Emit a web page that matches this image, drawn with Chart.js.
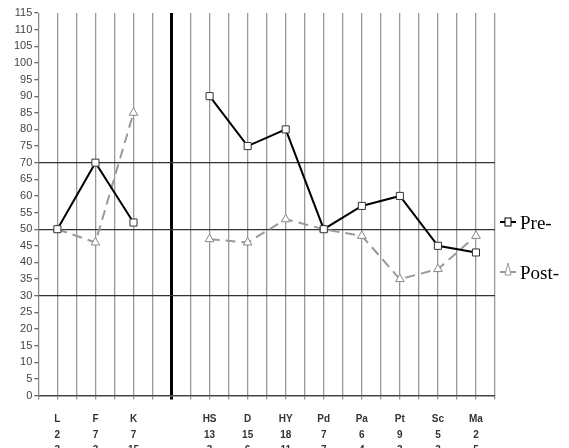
<!DOCTYPE html>
<html>
<head>
<script src="https://cdn.jsdelivr.net/npm/chart.js"></script>
<style>
body { margin:0; background:#fff; overflow:hidden; }
#wrap { width:569px; height:470px; }
</style>
</head>
<body>
<div id="wrap"><canvas id="profil"></canvas></div>
<script>
// MMPI scales, positions on the x slot axis (slot 6 is the separator)
var echelles = ['L','F','K','HS','D','HY','Pd','Pa','Pt','Sc','Ma'];
var positions = [0,2,4,8,10,12,14,16,18,20,22];
var ligne2 = ['2','7','7','13','15','18','7','6','9','5','2'];
var ligne3 = ['3','3','15','3','6','11','7','4','3','3','5'];
var pre = [50,70,52,90,75,80,50,57,60,45,43];
var post = [50,46,85,47,46,53,50,48,35,38,48];

function points(vals){
  var res = [];
  for (let i=0; i<vals.length; i++) {
    res.push({x: positions[i], y: vals[i]});
    if (i == 2) res.push({x: 6, y: null}); // coupure entre validite et cliniques
  }
  return res;
}

var police = "'Liberation Sans Narrow', 'Liberation Sans', Arial, sans-serif";

var legende = {
  id: 'legende',
  afterDraw: function(chart){
    var c = chart.ctx;
    var items = [
      {y:222, col:'#000', style:'sq', txt:'Pre-'},
      {y:272, col:'#999', style:'tri', txt:'Post-'}
    ];
    c.save();
    items.forEach(function(it){
      c.strokeStyle = it.col; c.lineWidth = 2;
      c.beginPath(); c.moveTo(500, it.y); c.lineTo(516, it.y); c.stroke();
      c.fillStyle = '#fff'; c.lineWidth = 1;
      if (it.style == 'sq') { c.fillRect(505,it.y-4,6,8); c.strokeRect(505,it.y-4,6,8); }
      else { c.beginPath(); c.moveTo(508,it.y-9); c.lineTo(505,it.y+3); c.lineTo(511,it.y+3); c.closePath(); c.fill(); c.stroke(); }
      c.fillStyle = '#000';
      c.font = "19px 'Liberation Serif', serif";
      c.textBaseline = 'middle';
      c.fillText(it.txt, 520, it.y+2);
    });
    c.restore();
  }
};

var ctx = document.getElementById('profil').getContext('2d');
var graphe = new Chart(ctx, {
  type: 'line',
  data: {
    datasets: [{
      label: 'Pre-',
      data: points(pre),
      spanGaps: false,
      borderColor: '#000',
      borderWidth: 2,
      pointStyle: 'rect',
      pointRadius: 5,
      pointBackgroundColor: '#fff',
      pointBorderColor: '#333',
      pointBorderWidth: 1
    }, {
      label: 'Post-',
      data: points(post),
      spanGaps: false,
      borderColor: '#9a9a9a',
      borderWidth: 2,
      borderDash: [10,6],
      pointStyle: 'triangle',
      pointRadius: 5,
      pointBackgroundColor: '#fff',
      pointBorderColor: '#888',
      pointBorderWidth: 1
    }]
  },
  options: {
    responsive: true,
    maintainAspectRatio: false,
    animation: false,
    layout: { padding: { top: 13, right: 74, left: 12, bottom: 0 } },
    plugins: { legend: { display: false }, tooltip: { enabled: false } },
    scales: {
      x: {
        type: 'linear', min: -1, max: 23,
        afterBuildTicks: function(ax){
          var t = [];
          for (let i=-1; i<=23; i++) t.push({value:i});
          ax.ticks = t;
        },
        ticks: {
          autoSkip: false, maxRotation: 0,
          color: '#333',
          font: { family: police, size: 10, weight: 'bold', lineHeight: 1.55 },
          padding: 12,
          callback: function(v){
            var k = positions.indexOf(v);
            if (k < 0) return '';
            return [echelles[k], ligne2[k], ligne3[k]];
          }
        },
        grid: {
          color: function(c){ return c.tick && c.tick.value == 6 ? '#000' : '#999'; },
          lineWidth: function(c){ return c.tick && c.tick.value == 6 ? 3 : 1.3; },
          tickLength: 4
        },
        border: { color: '#444', width: 1.5 }
      },
      y: {
        min: 0, max: 115,
        ticks: {
          stepSize: 5, color: '#444',
          font: { family: police, size: 11 },
          padding: 2
        },
        grid: {
          color: function(c){ var v = c.tick && c.tick.value; return (v==30||v==50||v==70) ? '#333' : 'rgba(0,0,0,0)'; },
          lineWidth: 1.3,
          tickColor: '#666',
          tickLength: 4
        },
        border: { color: '#888', width: 1 }
      }
    }
  },
  plugins: [legende]
});
</script>
</body>
</html>
